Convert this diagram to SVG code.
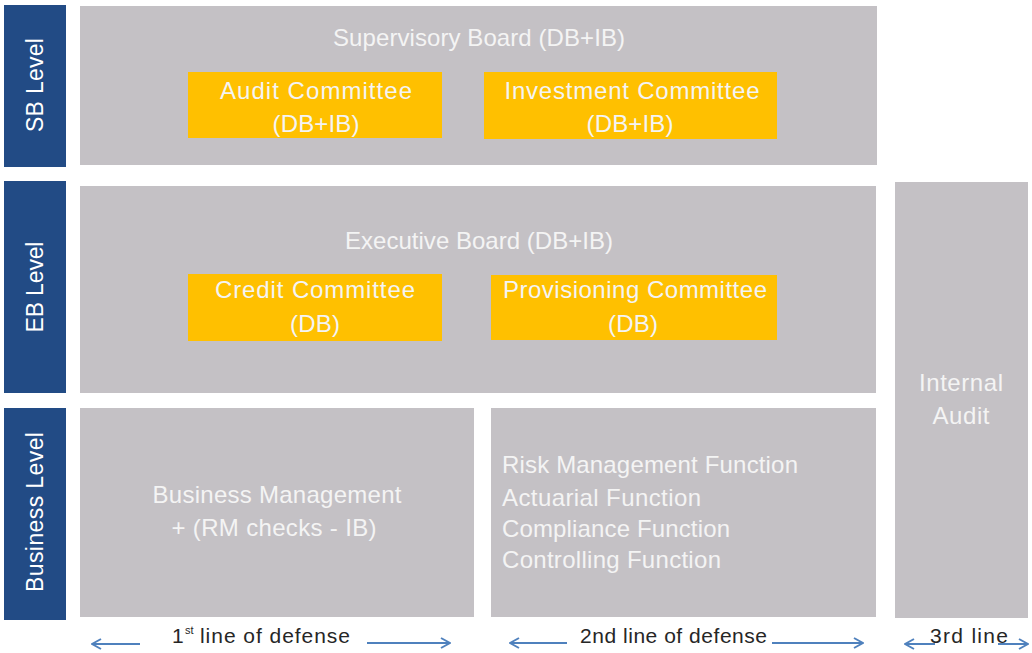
<svg xmlns="http://www.w3.org/2000/svg" width="1032" height="653" viewBox="0 0 1032 653">
  <style>
    .panel { fill: #c4c1c5; }
    .side { fill: #224b85; }
    .cmte { fill: #ffc000; }
    .lbl { font-family: "Liberation Sans", Arial, sans-serif; font-size: 24px; fill: #f4f4f4; }
    .mid { text-anchor: middle; }
    .sideTxt { font-family: "Liberation Sans", Arial, sans-serif; font-size: 23px; fill: #ffffff; text-anchor: middle; }
    .foot { font-family: "Liberation Sans", Arial, sans-serif; font-size: 21px; fill: #262626; }
    .sup { font-size: 11px; }
    .arrow { stroke: #4f81bd; stroke-width: 2; fill: none; marker-end: url(#head); }
  </style>
  <defs>
    <marker id="head" viewBox="0 0 12 12" refX="11" refY="6" markerWidth="12" markerHeight="12" markerUnits="userSpaceOnUse" orient="auto">
      <path d="M2,1 L11,6 L2,11" fill="none" stroke="#4f81bd" stroke-width="2"/>
    </marker>
  </defs>

  <rect width="1032" height="653" fill="#ffffff"/>

  <!-- level labels -->
  <g id="sb-level">
    <rect class="side" x="4" y="5" width="62" height="162"/>
    <text class="sideTxt" transform="translate(43 85) rotate(-90)" textLength="94" lengthAdjust="spacing">SB Level</text>
  </g>
  <g id="eb-level">
    <rect class="side" x="4" y="181" width="62" height="212"/>
    <text class="sideTxt" transform="translate(43 287) rotate(-90)" textLength="91" lengthAdjust="spacing">EB Level</text>
  </g>
  <g id="business-level">
    <rect class="side" x="4" y="408" width="62" height="212"/>
    <text class="sideTxt" transform="translate(43 512) rotate(-90)" textLength="160" lengthAdjust="spacing">Business Level</text>
  </g>

  <!-- supervisory board -->
  <g id="supervisory-board">
    <rect class="panel" x="80" y="6" width="797" height="159"/>
    <text class="lbl mid" x="479" y="46" textLength="292" lengthAdjust="spacing">Supervisory Board (DB+IB)</text>
  </g>
  <g id="audit-committee">
    <rect class="cmte" x="188" y="72" width="254" height="66"/>
    <text class="lbl mid" x="316" y="99" textLength="192" lengthAdjust="spacing">Audit Committee</text>
    <text class="lbl mid" x="316" y="132" textLength="87" lengthAdjust="spacing">(DB+IB)</text>
  </g>
  <g id="investment-committee">
    <rect class="cmte" x="484" y="72" width="293" height="67"/>
    <text class="lbl mid" x="632" y="99" textLength="255" lengthAdjust="spacing">Investment Committee</text>
    <text class="lbl mid" x="630" y="132" textLength="87" lengthAdjust="spacing">(DB+IB)</text>
  </g>

  <!-- executive board -->
  <g id="executive-board">
    <rect class="panel" x="80" y="186" width="796" height="207"/>
    <text class="lbl mid" x="479" y="249" textLength="268" lengthAdjust="spacing">Executive Board (DB+IB)</text>
  </g>
  <g id="credit-committee">
    <rect class="cmte" x="188" y="274" width="254" height="67"/>
    <text class="lbl mid" x="315" y="298" textLength="200" lengthAdjust="spacing">Credit Committee</text>
    <text class="lbl mid" x="315" y="332" textLength="50" lengthAdjust="spacing">(DB)</text>
  </g>
  <g id="provisioning-committee">
    <rect class="cmte" x="491" y="275" width="286" height="65"/>
    <text class="lbl mid" x="635" y="298" textLength="264" lengthAdjust="spacing">Provisioning Committee</text>
    <text class="lbl mid" x="633" y="332" textLength="50" lengthAdjust="spacing">(DB)</text>
  </g>

  <!-- business level -->
  <g id="business-management">
    <rect class="panel" x="80" y="408" width="394" height="209"/>
    <text class="lbl mid" x="277" y="503" textLength="249" lengthAdjust="spacing">Business Management</text>
    <text class="lbl mid" x="274" y="536" textLength="205" lengthAdjust="spacing">+ (RM checks - IB)</text>
  </g>
  <g id="control-functions">
    <rect class="panel" x="491" y="408" width="385" height="209"/>
    <text class="lbl" x="502" y="473" textLength="296" lengthAdjust="spacing">Risk Management Function</text>
    <text class="lbl" x="502" y="506" textLength="199" lengthAdjust="spacing">Actuarial Function</text>
    <text class="lbl" x="502" y="537" textLength="228" lengthAdjust="spacing">Compliance Function</text>
    <text class="lbl" x="502" y="568" textLength="219" lengthAdjust="spacing">Controlling Function</text>
  </g>

  <!-- internal audit -->
  <g id="internal-audit">
    <rect class="panel" x="895" y="182" width="133" height="436"/>
    <text class="lbl mid" x="961" y="391" textLength="84" lengthAdjust="spacing">Internal</text>
    <text class="lbl mid" x="961" y="424" textLength="57" lengthAdjust="spacing">Audit</text>
  </g>

  <!-- lines of defense -->
  <g id="connectors">
    <line class="arrow" x1="140" y1="644" x2="92" y2="644"/>
    <line class="arrow" x1="367" y1="643" x2="450" y2="643"/>
    <line class="arrow" x1="567" y1="643" x2="510" y2="643"/>
    <line class="arrow" x1="772" y1="643" x2="863" y2="643"/>
    <line class="arrow" x1="935" y1="644" x2="905" y2="644"/>
    <line class="arrow" x1="998" y1="644" x2="1028" y2="644"/>
  </g>
  <g id="defense-labels">
    <text class="foot" x="172" y="643">1</text>
    <text class="foot sup" x="185" y="634">st</text>
    <text class="foot" x="200" y="643" textLength="150" lengthAdjust="spacing">line of defense</text>
    <text class="foot" x="580" y="643" textLength="187" lengthAdjust="spacing">2nd line of defense</text>
    <text class="foot" x="930" y="643" textLength="78" lengthAdjust="spacing">3rd line</text>
  </g>
</svg>
